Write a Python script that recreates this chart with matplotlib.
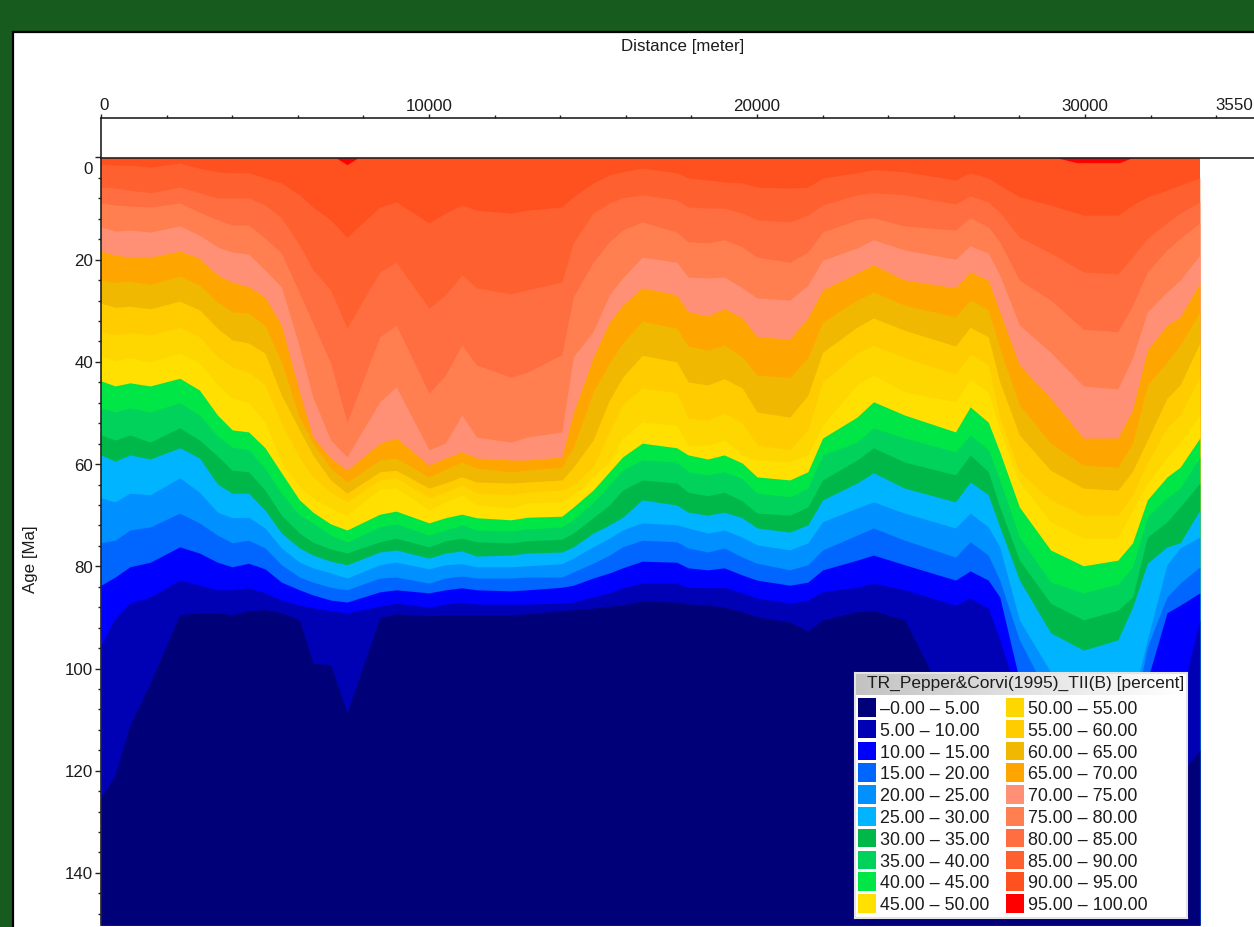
import numpy as np
import matplotlib
matplotlib.use('Agg')
import matplotlib.pyplot as plt
from matplotlib.patches import Rectangle

plt.rcParams['font.family'] = ['Liberation Sans', 'DejaVu Sans']

# distance of the sampled columns [meter]
dist = [0, 430, 880, 1500, 2400, 3000, 3550, 4000, 4500, 5000, 5500, 6050, 6460, 7000,
        7500, 8500, 9000, 10000, 10500, 11000, 11450, 12500, 13000, 14050, 14400, 15000, 15500,
        15900, 16500, 17550, 17900, 18500, 19000, 19550, 20000, 21000, 21550, 22000, 23050, 23550,
        24500, 26050, 26500, 27050, 27400, 28000, 28950, 29950, 31000, 31450, 31900, 32500, 32900, 33500]

# age [Ma] at which the transformation ratio passes each level
b90 = [1.3, 1.5, 1.5, 1.9, 1.1, 2.1, 2.8, 3.0, 3.0, 4.0, 5.0, 7.3, 9.7, 12.2,
       15.6, 9.7, 8.7, 12.8, 10.9, 9.3, 10.3, 10.9, 10.3, 9.7, 7.7, 5.0, 3.4,
       2.8, 2.1, 3.0, 4.0, 4.4, 4.8, 5.0, 5.8, 6.0, 5.8, 4.0, 3.0, 2.4,
       2.8, 4.4, 3.0, 4.0, 5.4, 7.7, 9.3, 11.3, 11.3, 9.3, 7.7, 6.4, 5.4, 4.0]
b85 = [5.8, 6.0, 6.4, 6.9, 5.8, 6.9, 7.9, 7.9, 7.9, 9.3, 11.8, 17.1, 22.0, 25.9,
       33.4, 22.4, 20.5, 29.5, 26.9, 23.0, 25.5, 26.7, 25.9, 24.4, 16.7, 10.9, 8.9,
       7.9, 7.3, 8.3, 9.7, 9.9, 9.9, 10.9, 12.2, 12.6, 11.3, 9.3, 7.3, 6.9,
       7.3, 9.1, 7.5, 8.7, 10.7, 15.6, 18.7, 22.4, 22.8, 19.5, 15.8, 12.8, 10.9, 8.7]
b80 = [8.9, 9.3, 9.5, 9.7, 8.9, 10.7, 12.2, 13.2, 13.2, 15.8, 18.7, 26.5, 32.4, 40.2,
       51.8, 35.1, 32.8, 46.1, 42.6, 36.7, 40.6, 43.0, 42.0, 38.6, 27.3, 20.5, 16.5,
       14.2, 12.6, 14.6, 16.5, 16.7, 16.1, 17.5, 19.5, 20.5, 18.5, 14.6, 12.2, 11.8,
       13.4, 14.2, 11.8, 13.6, 16.5, 24.0, 27.9, 33.6, 34.1, 28.9, 22.4, 18.1, 15.8, 12.8]
b75 = [13.6, 14.4, 14.2, 14.6, 13.4, 15.2, 17.5, 18.5, 18.9, 22.0, 25.3, 37.1, 46.9, 55.3,
       58.6, 47.8, 44.9, 57.2, 55.9, 50.4, 54.7, 55.7, 54.7, 53.7, 39.0, 34.1, 26.9,
       23.6, 19.5, 20.5, 23.4, 23.6, 23.4, 25.5, 27.5, 27.9, 25.0, 20.1, 17.7, 16.1,
       18.1, 19.9, 17.3, 18.7, 23.0, 32.8, 38.1, 44.7, 45.3, 39.2, 30.2, 26.3, 24.0, 19.1]
b70 = [18.3, 19.1, 19.5, 19.5, 18.3, 19.7, 23.0, 24.4, 25.3, 27.3, 32.8, 45.9, 54.7, 58.8,
       61.2, 55.9, 54.9, 60.2, 58.8, 57.6, 58.8, 59.2, 59.2, 58.6, 50.0, 39.2, 32.2,
       28.9, 25.5, 26.9, 30.2, 31.0, 29.6, 31.4, 35.1, 35.5, 31.4, 25.9, 22.6, 21.0,
       24.0, 25.5, 22.4, 24.0, 30.2, 40.6, 47.1, 54.9, 54.9, 49.4, 37.7, 32.8, 31.2, 24.6]
b65 = [24.0, 24.4, 24.2, 24.8, 23.2, 25.0, 28.3, 30.2, 30.4, 32.8, 40.0, 50.8, 55.9, 60.8,
       63.5, 59.2, 58.8, 62.5, 61.0, 59.6, 60.8, 61.5, 61.2, 60.6, 56.7, 45.9, 40.2,
       36.3, 32.0, 33.4, 36.9, 37.7, 36.7, 39.0, 42.6, 43.0, 39.2, 32.2, 27.9, 26.3,
       28.9, 31.2, 27.9, 29.8, 37.3, 48.4, 55.9, 60.2, 60.6, 55.9, 44.5, 40.0, 36.7, 30.2]
b60 = [28.5, 29.3, 29.1, 29.6, 28.1, 29.8, 33.4, 35.7, 36.3, 38.3, 46.5, 53.3, 58.2, 63.1,
       65.7, 61.5, 61.2, 64.7, 63.7, 62.5, 63.5, 63.7, 63.5, 63.1, 60.6, 55.3, 47.5,
       43.0, 38.7, 40.0, 43.9, 44.5, 43.3, 45.1, 49.8, 50.8, 46.5, 38.1, 33.2, 31.4,
       33.8, 36.9, 33.2, 35.1, 43.9, 54.3, 61.2, 64.7, 65.1, 61.4, 55.3, 47.1, 44.5, 36.3]
b55 = [34.1, 34.7, 34.3, 34.7, 33.2, 35.1, 39.0, 41.0, 42.0, 44.5, 52.0, 58.8, 62.5, 65.5,
       67.4, 63.1, 62.7, 66.6, 65.5, 64.1, 65.7, 66.0, 65.5, 65.1, 64.1, 60.6, 53.7,
       48.4, 45.1, 46.1, 51.0, 51.4, 50.0, 52.0, 56.3, 57.2, 53.3, 43.9, 38.3, 36.7,
       39.2, 42.4, 38.5, 40.6, 51.0, 61.5, 67.0, 70.0, 70.0, 66.0, 59.8, 52.9, 50.4, 43.0]
b50 = [38.8, 39.8, 39.2, 40.0, 38.3, 40.2, 44.5, 47.1, 48.0, 51.8, 59.6, 64.5, 66.7, 68.6,
       70.0, 64.9, 64.7, 69.0, 67.4, 66.0, 68.0, 68.6, 67.6, 67.4, 66.0, 62.5, 59.6,
       54.9, 51.8, 52.4, 56.3, 56.3, 55.3, 58.2, 59.2, 59.6, 58.2, 52.4, 44.5, 42.6,
       45.9, 47.8, 43.5, 45.9, 53.3, 63.5, 71.3, 74.5, 74.5, 69.0, 63.7, 58.8, 55.7, 50.4]
b45 = [43.7, 44.7, 44.1, 44.7, 43.2, 45.5, 50.4, 53.3, 53.7, 56.8, 61.7, 67.0, 69.4, 71.7,
       72.9, 69.8, 69.2, 71.5, 70.5, 69.8, 70.5, 70.9, 70.4, 70.2, 68.4, 65.1, 61.5,
       58.6, 55.9, 56.8, 58.2, 59.0, 58.2, 59.8, 62.5, 63.1, 61.5, 54.9, 50.8, 47.8,
       50.4, 53.7, 48.8, 51.8, 57.6, 68.4, 76.8, 79.9, 78.8, 75.4, 67.0, 62.5, 60.6, 54.9]
b40 = [49.0, 49.8, 49.0, 49.8, 48.0, 50.4, 54.5, 56.7, 57.2, 60.8, 65.7, 70.0, 71.5, 73.9,
       75.2, 72.3, 71.7, 73.9, 72.9, 71.9, 72.9, 73.1, 72.7, 72.3, 70.9, 67.6, 64.1,
       61.2, 59.2, 59.6, 61.5, 62.1, 61.5, 62.9, 65.7, 66.4, 64.7, 58.2, 55.7, 52.9,
       54.9, 57.6, 54.3, 57.2, 63.1, 74.3, 83.1, 85.2, 83.5, 80.1, 70.4, 66.6, 64.7, 58.6]
b35 = [54.3, 55.3, 54.3, 55.7, 52.9, 55.3, 58.4, 61.2, 61.5, 65.1, 70.0, 73.5, 75.3, 76.6,
       77.4, 75.2, 74.5, 76.2, 75.0, 74.5, 75.2, 75.4, 75.0, 74.7, 73.5, 70.5, 68.0,
       65.1, 63.1, 63.7, 65.5, 66.2, 65.5, 67.2, 69.6, 70.0, 68.4, 63.1, 59.2, 56.8,
       59.6, 62.1, 58.2, 61.5, 68.4, 78.8, 87.2, 90.5, 88.6, 86.0, 74.3, 71.3, 68.4, 63.7]
b30 = [58.2, 59.4, 58.2, 59.0, 56.8, 58.8, 63.9, 65.7, 65.7, 69.0, 73.5, 76.4, 77.8, 79.0,
       79.7, 77.2, 76.8, 78.4, 77.4, 77.0, 78.0, 77.8, 77.4, 77.2, 76.2, 73.5, 71.9,
       70.4, 67.0, 68.0, 69.4, 70.0, 69.4, 70.5, 72.5, 73.3, 71.9, 67.0, 63.7, 61.7,
       64.7, 67.4, 63.5, 66.0, 72.3, 82.7, 93.0, 96.4, 94.4, 88.0, 79.4, 76.2, 75.4, 69.0]
b25 = [66.6, 67.4, 65.7, 66.0, 62.7, 65.5, 69.4, 70.5, 70.4, 72.5, 76.4, 79.2, 80.3, 81.3,
       82.3, 79.7, 79.2, 80.5, 79.7, 79.5, 80.1, 80.1, 79.9, 79.5, 78.4, 76.2, 74.5,
       72.9, 71.5, 71.9, 72.5, 73.5, 72.9, 74.3, 75.8, 76.8, 75.4, 71.3, 68.6, 67.4,
       69.6, 72.5, 69.6, 72.3, 76.2, 90.5, 100.7, 104.2, 104.2, 106.2, 94.4, 79.7, 76.4, 74.3]
b20 = [75.4, 74.9, 72.9, 72.3, 69.6, 71.5, 73.9, 75.4, 74.9, 76.4, 79.7, 82.1, 83.1, 84.1,
       84.6, 82.3, 82.1, 83.3, 82.3, 81.9, 82.3, 82.3, 82.1, 82.1, 81.1, 79.4, 77.8,
       76.2, 74.9, 75.2, 76.4, 77.2, 76.4, 78.2, 79.4, 80.7, 79.7, 76.8, 73.9, 72.5,
       74.9, 78.2, 75.2, 77.8, 82.7, 94.4, 106.2, 110.1, 110.1, 110.1, 95.8, 86.0, 83.3, 80.1]
b15 = [83.7, 82.1, 80.1, 79.2, 76.2, 77.4, 79.2, 80.1, 79.4, 80.5, 83.1, 84.6, 85.6, 86.6,
       87.0, 85.0, 84.6, 85.2, 84.6, 84.2, 84.6, 84.8, 84.6, 84.1, 83.7, 82.3, 81.3,
       80.3, 79.0, 79.2, 80.3, 80.7, 80.3, 81.7, 82.7, 83.7, 83.1, 80.7, 78.8, 77.8,
       79.7, 82.7, 80.9, 82.7, 86.0, 102.3, 112.0, 114.0, 114.0, 114.0, 102.3, 89.1, 87.6, 85.2]
b10 = [95.4, 90.1, 87.2, 86.0, 82.7, 83.7, 84.6, 84.6, 84.2, 85.2, 86.6, 87.6, 88.1, 88.7,
       89.1, 87.8, 87.2, 88.0, 87.4, 87.0, 87.4, 87.4, 87.4, 87.2, 87.0, 86.0, 85.2,
       84.2, 83.3, 83.3, 84.1, 84.2, 84.1, 85.2, 86.2, 87.2, 86.6, 85.0, 84.1, 83.3,
       84.6, 87.6, 86.2, 88.2, 94.4, 106.2, 118.0, 121.8, 121.8, 121.8, 121.8, 114.0, 106.2, 90.5]
b5 = [125.3, 120.8, 111.1, 102.8, 89.5, 89.1, 89.1, 89.5, 88.7, 88.5, 89.1, 90.5, 99.0, 99.3,
      108.7, 90.1, 89.3, 89.7, 89.5, 89.5, 89.5, 89.5, 89.3, 88.7, 88.5, 88.2, 87.8,
      87.6, 86.8, 87.0, 87.4, 87.6, 88.0, 88.9, 89.9, 90.9, 92.7, 90.5, 88.9, 88.7,
      90.5, 110.1, 125.7, 125.7, 125.7, 125.7, 125.7, 125.7, 125.7, 125.7, 125.7, 125.7, 120.8, 115.9]

# the two small 95-100 patches at the top
red_dist_1 = [7150, 7500, 7850]
red_age_1 = [0, 1.4, 0]
red_dist_2 = [29100, 29750, 31050, 31450]
red_age_2 = [0, 1.0, 1.0, 0]

levels = [b90, b85, b80, b75, b70, b65, b60, b55, b50, b45,
          b40, b35, b30, b25, b20, b15, b10, b5]

# legend classes, low to high
legend_labels = ['–0.00 – 5.00', '5.00 – 10.00', '10.00 – 15.00', '15.00 – 20.00', '20.00 – 25.00',
                 '25.00 – 30.00', '30.00 – 35.00', '35.00 – 40.00', '40.00 – 45.00', '45.00 – 50.00',
                 '50.00 – 55.00', '55.00 – 60.00', '60.00 – 65.00', '65.00 – 70.00', '70.00 – 75.00',
                 '75.00 – 80.00', '80.00 – 85.00', '85.00 – 90.00', '90.00 – 95.00', '95.00 – 100.00']
colors = ['#000078', '#0000b4', '#0000ff', '#0066ff', '#0090ff',
          '#00b4ff', '#00b84a', '#00d25c', '#00e646', '#ffe000',
          '#ffd700', '#ffcc00', '#f0b800', '#ffa500', '#ff9076',
          '#ff7f50', '#ff6e40', '#ff6030', '#ff5020', '#ff0000']

W, H = 1254, 927
px = 0.0328   # pixels per meter
top, bottom, left = 157.5, 925.0, 101.0
txt = '#1c1c1c'

fig = plt.figure(figsize=(W / 100, H / 100), dpi=100, facecolor='#175c1e')
fig.add_artist(Rectangle((13 / W, -0.01), 1.1, 1.01 - 32 / H, transform=fig.transFigure,
                         facecolor='white', edgecolor='black', linewidth=1.6, zorder=-1))

ax = fig.add_axes([left / W, 1 - bottom / H, (W - left) / W, (bottom - top) / H], facecolor='white')
ax.set_xlim(0, (W - left) / px)
ax.set_ylim((bottom - top) / 5.11, 0)

# painted top down, each class covers everything below its upper limit
ymax = ax.get_ylim()[0]
ax.fill_between(dist, 0, ymax, color=colors[18], linewidth=0)
for i, lev in enumerate(levels):
    ax.fill_between(dist, lev, ymax, color=colors[17 - i], linewidth=0)
ax.fill_between(red_dist_1, 0, red_age_1, color=colors[19], linewidth=0)
ax.fill_between(red_dist_2, 0, red_age_2, color=colors[19], linewidth=0)

ax.spines['right'].set_visible(False)
ax.spines['bottom'].set_visible(False)
ax.spines['left'].set_linewidth(1.2)
ax.spines['left'].set_color('#222222')
ax.spines['top'].set_visible(False)
ax.set_xticks([])
ax.set_yticks(np.arange(0, 141, 20))
ax.set_yticks(np.arange(0, 151, 4), minor=True)
ax.tick_params(axis='y', which='major', length=4, width=1, labelleft=False, color='#222222')
ax.tick_params(axis='y', which='minor', length=2.5, width=1, color='#222222')
for a in np.arange(0, 141, 20):
    off = -12 if a == 0 else -2
    ax.annotate(str(a), (0, a), xytext=(-8, off), textcoords='offset pixels', ha='right',
                va='center', fontsize=12.2, color=txt, annotation_clip=False)

# empty band with the distance axis on top
band = fig.add_axes([left / W, 1 - top / H, (W - left) / W, 39.5 / H], facecolor='white')
band.set_xlim(ax.get_xlim())
band.set_yticks([])
band.spines['right'].set_visible(False)
for s in ['left', 'top', 'bottom']:
    band.spines[s].set_linewidth(1.2)
    band.spines[s].set_color('#222222')
band.xaxis.tick_top()
band.set_xticks([0, 10000, 20000, 30000])
band.set_xticklabels(['', '10000', '20000', '30000'], fontsize=12.2, color=txt)
band.set_xticks(np.arange(0, 35000, 2000), minor=True)
band.tick_params(axis='x', which='major', length=3, width=1, pad=0, color='#222222')
band.tick_params(axis='x', which='minor', length=2, width=1, color='#222222')
band.text(90, 1.12, '0', transform=band.get_xaxis_transform(), ha='center', va='bottom',
          fontsize=12.2, color=txt)
fig.text(1253 / W, 1 - 105 / H, '3550', ha='right', va='center', fontsize=12.2, color=txt)

fig.text(683 / W, 1 - 46 / H, 'Distance [meter]', ha='center', va='center', fontsize=12.2, color=txt)
fig.text(30 / W, 1 - 559 / H, 'Age [Ma]', ha='center', va='center', rotation=90, fontsize=12.2, color=txt)

# legend box, laid out in pixels of the figure
lax = fig.add_axes([855 / W, 1 - 918 / H, 332 / W, 245 / H], facecolor='white')
lax.set_xlim(855, 1187)
lax.set_ylim(918, 673)
lax.set_xticks([])
lax.set_yticks([])
for s in lax.spines.values():
    s.set_color('#e4e4e4')
    s.set_linewidth(1.5)
grad = np.linspace(0.76, 1.0, 100).reshape(1, -1)
lax.imshow(grad, extent=[855, 1187, 695, 673], cmap='gray', vmin=0, vmax=1, aspect='auto')
lax.set_xlim(855, 1187)
lax.set_ylim(918, 673)
lax.text(1025.5, 683, 'TR_Pepper&Corvi(1995)_TII(B) [percent]', ha='center', va='center',
         fontsize=12.5, color=txt)
for i, lab in enumerate(legend_labels):
    col = i // 10
    row = i % 10
    x0 = 858 if col == 0 else 1006
    y0 = 698 + row * 21.8
    lax.add_patch(Rectangle((x0, y0), 18, 18.5, facecolor=colors[i], edgecolor='none'))
    lax.text(x0 + 22, y0 + 11.5, lab, ha='left', va='center', fontsize=12.9, color=txt)

fig.savefig('out.png', dpi=100, facecolor=fig.get_facecolor())
